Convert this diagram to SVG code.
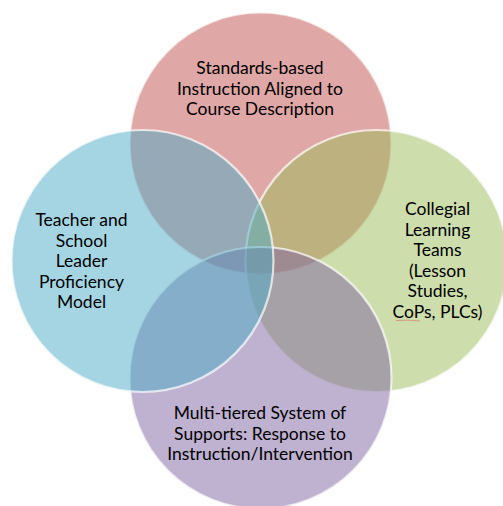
<svg xmlns="http://www.w3.org/2000/svg" width="503" height="506" viewBox="0 0 503 506">
<style>
.c{stroke:#ffffff;stroke-width:2.2;stroke-opacity:0.7;fill-opacity:0.5}
.t{font-family:"Lato","Liberation Sans",sans-serif;font-size:17.5px;fill:#000;text-anchor:middle}
</style>
<rect width="503" height="506" fill="#ffffff"/>
<g id="top">
<circle class="c" cx="260.5" cy="143.5" r="131" fill="#C0504D"/>
<text class="t" x="260" y="74">Standards-based</text>
<text class="t" x="260" y="94.5">Instruction Aligned to</text>
<text class="t" x="260" y="115">Course Description</text>
</g>
<g id="right">
<circle class="c" cx="376.5" cy="261" r="131" fill="#9BBB59"/>
<text class="t" x="437.5" y="215">Collegial</text>
<text class="t" x="437.5" y="235.5">Learning</text>
<text class="t" x="437.5" y="256">Teams</text>
<text class="t" x="437.5" y="276.5">(Lesson</text>
<text class="t" x="437.5" y="297">Studies,</text>
<text class="t" x="437.5" y="317.5">CoPs, PLCs)</text>
<path d="M396 320.5 Q408 319.5 420 321" stroke="#e06060" stroke-width="0.8" fill="none" stroke-opacity="0.7"/>
</g>
<g id="bottom">
<circle class="c" cx="260.5" cy="378" r="131" fill="#8064A2"/>
<text class="t" x="260" y="419">Multi-tiered System of</text>
<text class="t" x="260" y="439.5">Supports: Response to</text>
<text class="t" x="260" y="460">Instruction/Intervention</text>
</g>
<g id="left">
<circle class="c" cx="142.5" cy="261" r="131" fill="#4BACC6"/>
<text class="t" x="81.5" y="226">Teacher and</text>
<text class="t" x="81.5" y="246.5">School</text>
<text class="t" x="81.5" y="267">Leader</text>
<text class="t" x="81.5" y="287.5">Proficiency</text>
<text class="t" x="81.5" y="308">Model</text>
</g>
<g id="connectors"></g>
</svg>
